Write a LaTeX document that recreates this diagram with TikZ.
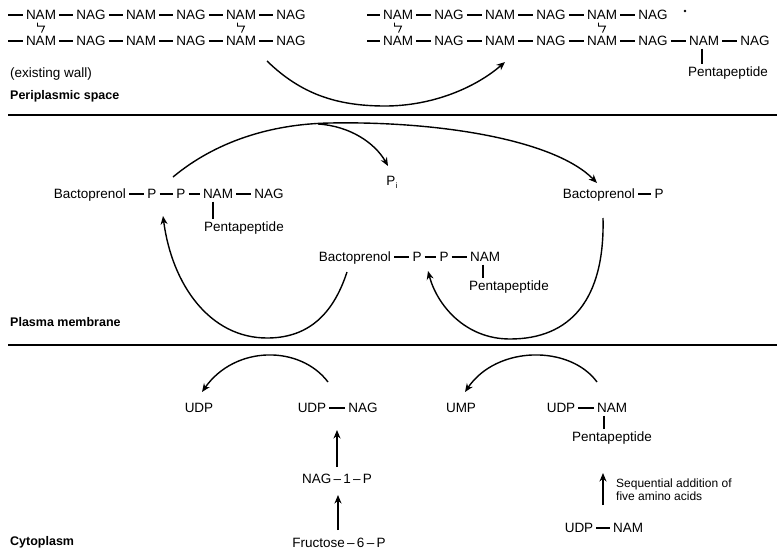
\documentclass[tikz,border=0pt]{standalone}
\usepackage{fontspec}
\setmainfont{Liberation Sans}
\usetikzlibrary{arrows.meta,calc}
\tikzset{
  m/.style={font=\fontsize{13.5}{15}\selectfont, inner xsep=3pt, inner ysep=0pt, text height=9.7pt, text depth=0pt},
  lbl/.style={font=\fontsize{12.5}{14}\selectfont\bfseries, anchor=west, inner sep=0pt, text height=9pt, text depth=0pt},
  bond/.style={line width=1.1pt},
  vbond/.style={line width=1.1pt, shorten <=2.5pt, shorten >=2.5pt},
  arr/.style={line width=1.4pt, -{Stealth[length=8.5pt,width=7pt]}},
  divider/.style={line width=1.4pt},
  xlink/.style={line width=0.9pt, line join=miter},
}
\begin{document}
\begin{tikzpicture}[x=1pt,y=-1pt]
\useasboundingbox (0,0) rectangle (777,557);

% ---------- Periplasmic space ----------
% existing wall (left)
\foreach \row/\y in {1/15,2/41}{
  \foreach \k in {0,...,5}
    \node[m] (L\row\k) at ({41+50*\k},\y) {\ifodd\k\relax NAG\else NAM\fi};
  \coordinate (L\row s) at (8,\y);
  \draw[bond] (L\row s) -- (L\row0);
  \foreach \k [count=\j from 1] in {0,...,4}
    \draw[bond] (L\row\k) -- (L\row\j);
}
% new wall (right)
\foreach \row/\y/\n/\mm in {1/15/5/4,2/41/7/6}{
  \foreach \k in {0,...,\n}
    \node[m] (R\row\k) at ({398+51*\k},\y) {\ifodd\k\relax NAG\else NAM\fi};
  \coordinate (R\row s) at (367,\y);
  \draw[bond] (R\row s) -- (R\row0);
  \foreach \k [count=\j from 1] in {0,...,\mm}
    \draw[bond] (R\row\k) -- (R\row\j);
}
% cross links
\foreach \a in {L10,L14,R10,R14}
  \draw[xlink] ($(\a.south)+(-3.5,2.5)$) -- ++(0,3.5) -- ++(7,0) -- ++(-3,6.5);
\fill (685,11) circle (1.3pt);

\node[m, anchor=west] (Rpent) at (685,72) {Pentapeptide};
\draw[vbond] ([xshift=-2pt]R26.south) -- ([xshift=-2pt]R26.south |- Rpent.north);

\coordinate (wallA) at (267,61);
\coordinate (wallB) at (505,62);
\draw[arr] (wallA) .. controls (300,93) and (335,106) .. (385,106) .. controls (432,106) and (475,88) .. (wallB);

\node[m, anchor=west, inner xsep=0pt] (exist) at (10,73) {(existing wall)};
\node[lbl] (peri) at (10,95) {Periplasmic space};
\draw[divider] (8,115) -- (777,115);

% ---------- Plasma membrane ----------
\node[m, anchor=east] (bpA) at (129,194) {Bactoprenol};
\node[m] (pA1) at (152,194) {P};
\node[m] (pA2) at (181,194) {P};
\node[m] (namA) at (218,194) {NAM};
\node[m] (nagA) at (269,194) {NAG};
\draw[bond] (bpA) -- (pA1);
\draw[bond] (pA1) -- (pA2);
\draw[bond] (pA2) -- (namA);
\draw[bond] (namA) -- (nagA);
\node[m, anchor=west] (pentA) at (201,227) {Pentapeptide};
\draw[vbond] ([xshift=-5pt]namA.south) -- ([xshift=-5pt]namA.south |- pentA.north);

\node[m] (Pi) at (392,181) {P\kern0.3pt\raisebox{-2.5pt}{\fontsize{8}{8}\selectfont i}};

\node[m, anchor=east] (bpB) at (638,194) {Bactoprenol};
\node[m] (pB) at (659,194) {P};
\draw[bond] (bpB) -- (pB);

\node[m, anchor=east] (bpC) at (394,257) {Bactoprenol};
\node[m] (pC1) at (417,257) {P};
\node[m] (pC2) at (444,257) {P};
\node[m] (namC) at (485,257) {NAM};
\draw[bond] (bpC) -- (pC1);
\draw[bond] (pC1) -- (pC2);
\draw[bond] (pC2) -- (namC);
\node[m, anchor=west] (pentC) at (466,286) {Pentapeptide};
\draw[vbond] ([xshift=-2pt]namC.south) -- ([xshift=-2pt]namC.south |- pentC.north);

% big arc over the top
\coordinate (tA) at (173,177);
\coordinate (tB) at (597,183);
\coordinate (br) at (318,124);
\draw[arr] (tA) .. controls (215,142) and (270,124) .. (330,123) .. controls (440,121) and (555,140) .. (tB);
\draw[arr] (br) .. controls (350,126) and (375,143) .. (388,166);

% right loop
\coordinate (rA) at (603,218);
\coordinate (rB) at (428,271);
\draw[arr] (rA) .. controls (605,300) and (570,339) .. (510,339) .. controls (465,339) and (437,305) .. (rB);

% left loop
\coordinate (lA) at (347,272);
\coordinate (lB) at (163,216);
\draw[arr] (lA) .. controls (332,318) and (305,338) .. (267,338) .. controls (210,338) and (172,285) .. (lB);

\node[lbl] (plasma) at (10,322) {Plasma membrane};
\draw[divider] (8,345) -- (777,345);

% ---------- Cytoplasm ----------
\node[m] (udp1) at (199,408) {UDP};
\node[m] (udpA) at (312,408) {UDP};
\node[m] (nagB) at (363,408) {NAG};
\draw[bond] (udpA) -- (nagB);
\node[m] (nag1p) at (337,479) {NAG\,–\,1\,–\,P};
\node[m] (fru) at (339,543) {Fructose\,–\,6\,–\,P};
\draw[arr] (337,467) -- (337,430);
\draw[arr] (338,530) -- (338,495);
\coordinate (cA) at (328,382);
\coordinate (cB) at (202,392);
\draw[arr] (cA) .. controls (300,345) and (235,345) .. (cB);

\node[m] (ump) at (461,408) {UMP};
\node[m] (udpB) at (561,408) {UDP};
\node[m] (namD) at (612,408) {NAM};
\draw[bond] (udpB) -- (namD);
\node[m] (pentD) at (612,437) {Pentapeptide};
\draw[vbond] ([xshift=-8pt]namD.south) -- ([xshift=-8pt]namD.south |- pentD.north);
\coordinate (dA) at (597,382);
\coordinate (dB) at (465,392);
\draw[arr] (dA) .. controls (570,345) and (497,345) .. (dB);

\node[m] (udpC) at (579,528) {UDP};
\node[m] (namE) at (628,528) {NAM};
\draw[bond] (udpC) -- (namE);
\draw[arr] (603,505) -- (603,473);
\node[anchor=north west, align=left, inner sep=0pt, font=\fontsize{12}{13}\selectfont] (seq) at (616,479) {Sequential addition of\\five amino acids};

\node[lbl] (cyto) at (10,541) {Cytoplasm};
\end{tikzpicture}
\end{document}
